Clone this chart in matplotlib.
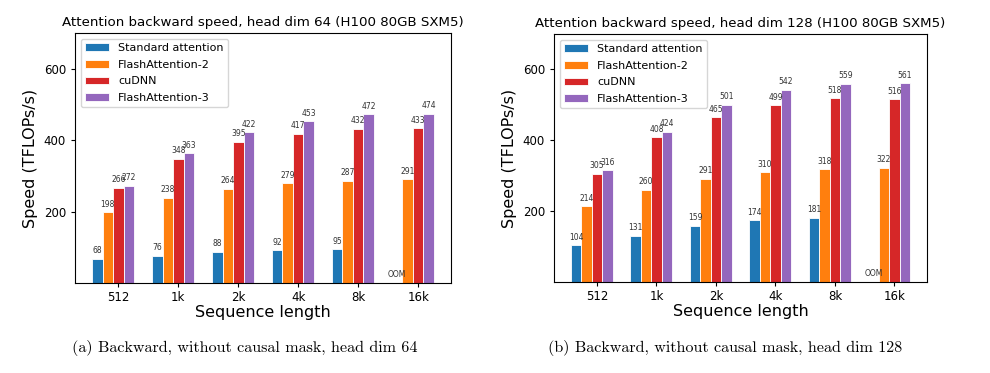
import matplotlib
matplotlib.use("Agg")
import matplotlib.pyplot as plt
import numpy as np

seq_labels = ["512", "1k", "2k", "4k", "8k", "16k"]
methods = ["Standard attention", "FlashAttention-2", "cuDNN", "FlashAttention-3"]
colors = ["#1f77b4", "#ff7f0e", "#d62728", "#9467bd"]

# head dim 64
std_64 = [68, 76, 88, 92, 95, None]
fa2_64 = [198, 238, 264, 279, 287, 291]
cudnn_64 = [266, 348, 395, 417, 432, 433]
fa3_64 = [272, 363, 422, 453, 472, 474]

# head dim 128
std_128 = [104, 131, 159, 174, 181, None]
fa2_128 = [214, 260, 291, 310, 318, 322]
cudnn_128 = [305, 408, 465, 499, 518, 516]
fa3_128 = [316, 424, 501, 542, 559, 561]

titles = ["Attention backward speed, head dim 64 (H100 80GB SXM5)",
          "Attention backward speed, head dim 128 (H100 80GB SXM5)"]
captions = ["(a) Backward, without causal mask, head dim 64",
            "(b) Backward, without causal mask, head dim 128"]

W, H = 990, 373
fig = plt.figure(figsize=(W / 100, H / 100), dpi=100)

def ax_rect(l, t, r, b):
    return [l / W, 1 - b / H, (r - l) / W, (b - t) / H]

axes = [fig.add_axes(ax_rect(75, 33, 451, 283)),
        fig.add_axes(ax_rect(554, 34, 927, 282))]
datasets = [[std_64, fa2_64, cudnn_64, fa3_64],
            [std_128, fa2_128, cudnn_128, fa3_128]]

w = 0.175
x = np.arange(len(seq_labels))
for ax, data, title in zip(axes, datasets, titles):
    for i, (series, name, c) in enumerate(zip(data, methods, colors)):
        pos = x + (i - 2) * w
        vals = [v if v is not None else 0 for v in series]
        ax.bar(pos, vals, w, color=c, label=name, edgecolor="white", linewidth=0.6)
        for p, v in zip(pos, series):
            if v is None:
                ax.text(p, 10, "OOM", ha="center", va="bottom", fontsize=5.5, color="#333333")
            else:
                ax.text(p, v + 10, str(v), ha="center", va="bottom", fontsize=5.5, color="#333333")
    ax.set_ylim(0, 700)
    ax.set_yticks([200, 400, 600])
    ax.set_xticks(x)
    ax.set_xticklabels(seq_labels)
    ax.tick_params(axis="both", labelsize=8.5, length=3)
    ax.tick_params(axis="x", pad=2.5)
    ax.set_title(title, fontsize=9.6, pad=5)
    ax.set_xlabel("Sequence length", fontsize=11.5, labelpad=1)
    ax.set_ylabel("Speed (TFLOPs/s)", fontsize=11.5)
    ax.legend(loc="upper left", fontsize=8, handlelength=2.2, borderaxespad=0.5,
              labelspacing=0.6)

fig.text(245 / W, 1 - 348 / H, captions[0], ha="center", va="center",
         fontsize=11.6, family="cmr10")
fig.text(725 / W, 1 - 348 / H, captions[1], ha="center", va="center",
         fontsize=11.6, family="cmr10")

fig.savefig("out.png", dpi=100)
